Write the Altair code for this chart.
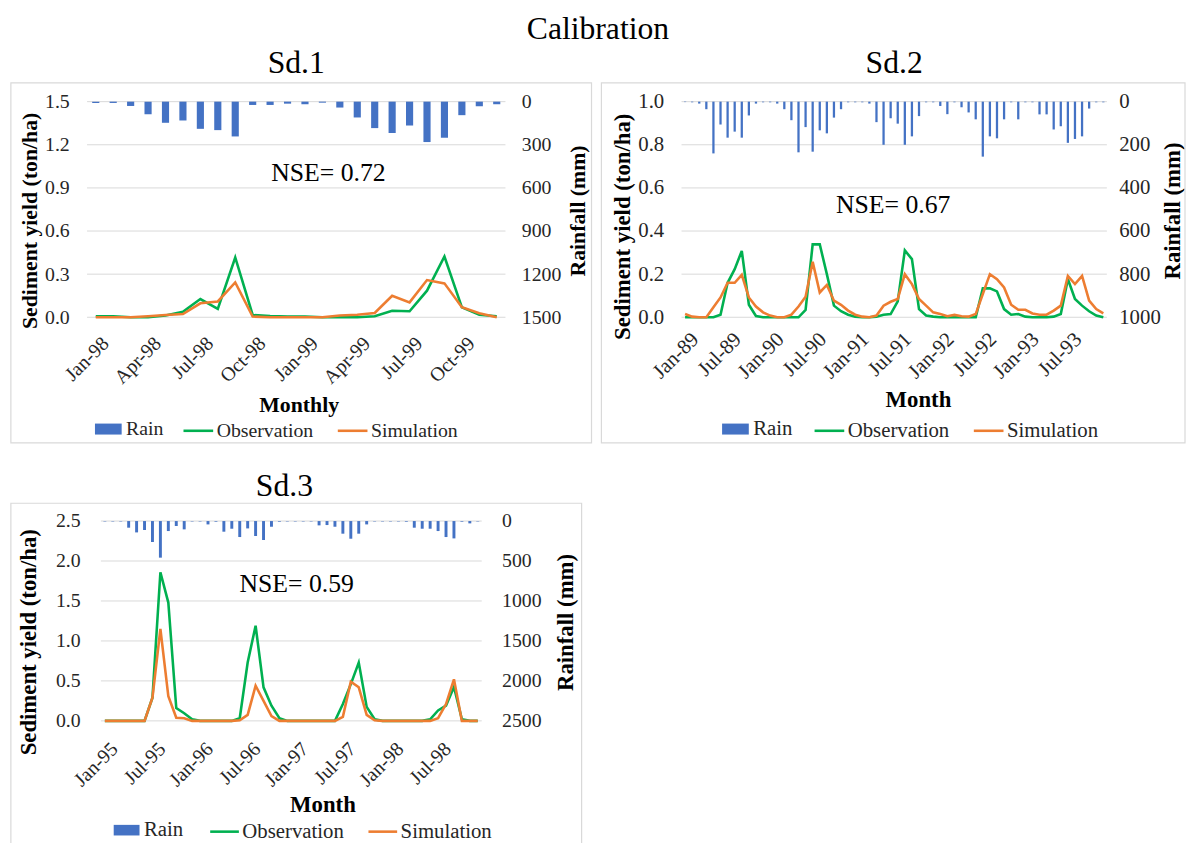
import altair as alt
import pandas as pd

FONT = "Liberation Serif"
BLUE = "#4472C4"
GREEN = "#00B050"
ORANGE = "#ED7D31"
GRID = "#D9D9D9"
TXT = "#262626"

MON = ["Jan", "Feb", "Mar", "Apr", "May", "Jun", "Jul", "Aug", "Sep", "Oct", "Nov", "Dec"]


def month_names(years):
    return [f"{m}-{y}" for y in years for m in MON]


# ---------------- Sd.1 (Jan-98 .. Dec-99) ----------------
sd1_months = month_names(["98", "99"])
sd1_ticks = ["Jan-98", "Apr-98", "Jul-98", "Oct-98", "Jan-99", "Apr-99", "Jul-99", "Oct-99"]
sd1_rain = [9, 9, 30, 87, 147, 131, 189, 198, 242, 23, 23, 14,
            18, 7, 41, 110, 184, 218, 166, 281, 251, 94, 32, 18]
sd1_obs = [0.007, 0.007, 0.0, 0.0, 0.012, 0.039, 0.127, 0.058, 0.416, 0.016, 0.009, 0.005,
           0.005, 0.0, 0.0, 0.0, 0.007, 0.046, 0.042, 0.185, 0.423, 0.069, 0.018, 0.007]
sd1_sim = [0.0, 0.0, 0.0, 0.007, 0.016, 0.023, 0.097, 0.11, 0.242, 0.005, 0.0, 0.0,
           0.0, 0.0, 0.012, 0.018, 0.03, 0.15, 0.104, 0.259, 0.236, 0.07, 0.028, 0.0]

# ---------------- Sd.2 (Jan-89 .. Dec-93) ----------------
sd2_months = month_names(["89", "90", "91", "92", "93"])
sd2_ticks = ["Jan-89", "Jul-89", "Jan-90", "Jul-90", "Jan-91", "Jul-91", "Jan-92", "Jul-92", "Jan-93", "Jul-93"]
sd2_rain = [2, 3, 9, 35, 240, 106, 167, 139, 167, 64, 9, 3,
            3, 9, 35, 86, 235, 118, 232, 133, 147, 74, 35, 3,
            3, 3, 9, 95, 200, 77, 102, 200, 161, 67, 3, 3,
            20, 58, 3, 26, 50, 82, 255, 161, 170, 82, 3, 82,
            3, 3, 59, 59, 129, 114, 191, 173, 161, 32, 3, 3]
sd2_obs = [0, 0, 0, 0, 0, 0.012, 0.16, 0.223, 0.308, 0.058, 0.006, 0,
           0, 0, 0, 0, 0, 0.034, 0.338, 0.338, 0.2, 0.054, 0.028, 0.012,
           0.003, 0, 0, 0.003, 0.012, 0.015, 0.074, 0.31, 0.27, 0.038, 0.008, 0.003,
           0, 0, 0, 0, 0, 0, 0.134, 0.134, 0.12, 0.038, 0.012, 0.015,
           0.003, 0, 0, 0, 0.003, 0.015, 0.177, 0.085, 0.054, 0.028, 0.008, 0]
sd2_sim = [0.015, 0.003, 0, 0, 0.046, 0.092, 0.16, 0.16, 0.197, 0.092, 0.05, 0.023,
           0.008, 0, 0, 0.012, 0.05, 0.095, 0.257, 0.115, 0.15, 0.077, 0.058, 0.031,
           0.012, 0.003, 0, 0.008, 0.054, 0.072, 0.085, 0.2, 0.154, 0.085, 0.054, 0.023,
           0.015, 0.005, 0.011, 0.005, 0.003, 0.015, 0.108, 0.2, 0.177, 0.138, 0.058, 0.035,
           0.035, 0.018, 0.012, 0.012, 0.031, 0.054, 0.192, 0.154, 0.192, 0.077, 0.038, 0.018]

# ---------------- Sd.3 (Jan-95 .. Dec-98) ----------------
sd3_months = month_names(["95", "96", "97", "98"])
sd3_ticks = ["Jan-95", "Jul-95", "Jan-96", "Jul-96", "Jan-97", "Jul-97", "Jan-98", "Jul-98"]
sd3_rain = [5, 5, 5, 83, 142, 112, 262, 458, 125, 62, 104, 5,
            5, 42, 8, 133, 96, 200, 92, 187, 237, 71, 8, 5,
            5, 5, 5, 54, 50, 71, 158, 221, 158, 42, 5, 5,
            5, 5, 8, 83, 96, 96, 125, 200, 217, 8, 29, 5]
sd3_obs = [0, 0, 0, 0, 0, 0, 0.29, 1.86, 1.48, 0.16, 0.096, 0.02,
           0, 0, 0, 0, 0, 0.033, 0.73, 1.19, 0.42, 0.19, 0.033, 0,
           0, 0, 0, 0, 0, 0, 0.21, 0.46, 0.73, 0.175, 0.02, 0,
           0, 0, 0, 0, 0, 0.02, 0.13, 0.19, 0.425, 0.02, 0, 0]
sd3_sim = [0, 0, 0, 0, 0, 0, 0.29, 1.15, 0.31, 0.04, 0.033, 0,
           0, 0, 0, 0, 0, 0.008, 0.075, 0.44, 0.25, 0.06, 0, 0,
           0, 0, 0, 0, 0, 0, 0.05, 0.49, 0.42, 0.075, 0.008, 0,
           0, 0, 0, 0, 0, 0, 0.033, 0.21, 0.52, 0, 0, 0]


def panel(c):
    months = c["months"]
    n = len(months)
    dbar = pd.DataFrame({"month": months, "rain": c["rain"], "item": ["Rain"] * n})
    dline = pd.DataFrame({
        "month": months * 2,
        "idx": list(range(n)) * 2,
        "value": list(c["obs"]) + list(c["sim"]),
        "series": ["Observation"] * n + ["Simulation"] * n,
    })
    w, h, off = c["w"], c["h"], c["off"]
    tfs, lfs, kfs = c["tfs"], c["lgfs"], c["kfs"]
    xscale = alt.Scale(domain=months, range=[off, w], paddingInner=c["pad"],
                       paddingOuter=c["pad"] / 2)
    xaxis = alt.Axis(values=c["ticks"], labelAngle=-45, labelFont=FONT, labelFontSize=kfs,
                     labelColor=TXT, labelPadding=c["xpad"], labelOffset=3, domain=False,
                     ticks=False, grid=False,
                     title=c["xtitle"], titleFont=FONT, titleFontSize=tfs, titleFontWeight="bold",
                     titleColor="black", titleX=c["xt"][0], titleY=c["xt"][1],
                     titleBaseline="middle", titleAlign="center")
    left_axis = alt.Axis(orient="left", values=c["svals"], format=".1f", grid=False,
                         domain=False, ticks=False,
                         labelFont=FONT, labelFontSize=kfs, labelColor=TXT, labelPadding=c["lpad"],
                         title="Sediment  yield (ton/ha)", titleFont=FONT, titleFontSize=tfs,
                         titleFontWeight="bold", titleColor="black",
                         titleX=c["lt"][0], titleY=c["lt"][1], titleBaseline="middle",
                         titleAlign="center", titleAngle=270)
    right_axis = alt.Axis(orient="right", values=c["rvals"], format="d", grid=False, domain=False,
                          ticks=False, labelFont=FONT, labelFontSize=kfs, labelColor=TXT,
                          labelPadding=c["rpad"],
                          title="Rainfall (mm)", titleFont=FONT, titleFontSize=tfs,
                          titleFontWeight="bold", titleColor="black",
                          titleX=c["rt"][0], titleY=c["rt"][1], titleBaseline="middle",
                          titleAlign="center", titleAngle=270)

    fx0, fx1, fy0, fy1 = c["frame"]
    frame = alt.Chart(pd.DataFrame({"k": [0]})).mark_rect(
        filled=False, stroke=GRID, strokeWidth=1.2
    ).encode(x=alt.value(fx0), x2=alt.value(fx1), y=alt.value(fy0), y2=alt.value(fy1))

    grid = alt.Chart(pd.DataFrame({"v": c["svals"]})).mark_rule(color=GRID, strokeWidth=1).encode(
        y=alt.Y("v:Q", scale=alt.Scale(domain=[0, c["smax"]], nice=False), axis=None),
        x=alt.value(off), x2=alt.value(w),
    )

    sym = c["sym"]
    bars = alt.Chart(dbar).mark_bar().encode(
        x=alt.X("month:N", scale=xscale, axis=xaxis),
        y=alt.Y("rain:Q", scale=alt.Scale(domain=[0, c["rmax"]], reverse=True, nice=False),
                axis=right_axis),
        fill=alt.Fill("item:N", scale=alt.Scale(domain=["Rain"], range=[BLUE]),
                      legend=alt.Legend(orient="none", legendX=c["leg1x"], legendY=c["legy"],
                                        title=None, symbolType="M-0.9,-0.37H0.9V0.37H-0.9Z",
                                        symbolSize=sym * sym, symbolStrokeWidth=0,
                                        labelFont=FONT, labelFontSize=lfs, labelColor=TXT,
                                        labelOffset=3)),
    )
    lines = alt.Chart(dline).mark_line(strokeWidth=2.6).encode(
        x=alt.X("month:N", scale=xscale, axis=xaxis),
        y=alt.Y("value:Q", scale=alt.Scale(domain=[0, c["smax"]], nice=False), axis=left_axis),
        stroke=alt.Stroke("series:N",
                          scale=alt.Scale(domain=["Observation", "Simulation"], range=[GREEN, ORANGE]),
                          legend=alt.Legend(orient="none", direction="horizontal",
                                            legendX=c["leg2x"], legendY=c["legy"],
                                            title=None, symbolType="stroke", symbolSize=sym * sym,
                                            symbolStrokeWidth=2.6, labelFont=FONT, labelFontSize=lfs,
                                            labelColor=TXT, labelOffset=2, columnPadding=19)),
        order=alt.Order("idx:Q"),
    )
    nse = alt.Chart(pd.DataFrame({"t": [c["nse"]]})).mark_text(
        font=FONT, fontSize=26, color="black", align="center", baseline="alphabetic"
    ).encode(text="t:N", x=alt.value(c["nse_xy"][0]), y=alt.value(c["nse_xy"][1]))

    return alt.layer(frame, grid, bars, lines, nse).resolve_scale(y="independent").properties(
        width=w, height=h,
        title=alt.Title(c["title"], font=FONT, fontSize=32, fontWeight="normal", color="black",
                        offset=c["toff"]),
    )


p1 = panel(dict(months=sd1_months, rain=sd1_rain, obs=sd1_obs, sim=sd1_sim, ticks=sd1_ticks,
                w=423, off=0, h=218, pad=0.59, smax=1.5, svals=[0, 0.3, 0.6, 0.9, 1.2, 1.5],
                rmax=1500, rvals=[0, 300, 600, 900, 1200, 1500], lpad=18, rpad=16, xpad=16,
                tfs=22, lgfs=20, kfs=20, sym=30, toff=2,
                xtitle="Monthly", xt=(214, 88), lt=(-58, 120), rt=(73, 110),
                frame=(-77, 510, -19, 345), leg1x=6.5, leg2x=96, legy=316,
                nse="NSE= 0.72", nse_xy=(244, 80), title="Sd.1"))
p2 = panel(dict(months=sd2_months, rain=sd2_rain, obs=sd2_obs, sim=sd2_sim, ticks=sd2_ticks,
                w=430, off=0, h=218, pad=0.68, smax=1.0, svals=[0, 0.2, 0.4, 0.6, 0.8, 1.0],
                rmax=1000, rvals=[0, 200, 400, 600, 800, 1000], lpad=18, rpad=12, xpad=11,
                tfs=23, lgfs=21, kfs=21, sym=30, toff=2,
                xtitle="Month", xt=(239, 83), lt=(-60, 126), rt=(66, 110),
                frame=(-81, 509, -19, 345), leg1x=39.5, leg2x=133, legy=316,
                nse="NSE= 0.67", nse_xy=(214, 113), title="Sd.2"))
p3 = panel(dict(months=sd3_months, rain=sd3_rain, obs=sd3_obs, sim=sd3_sim, ticks=sd3_ticks,
                w=399, off=14, h=202, pad=0.63, smax=2.5, svals=[0, 0.5, 1.0, 1.5, 2.0, 2.5],
                rmax=2500, rvals=[0, 500, 1000, 1500, 2000, 2500], lpad=7, rpad=20, xpad=18,
                tfs=23, lgfs=21, kfs=20, sym=29, toff=0,
                xtitle="Month", xt=(238, 85), lt=(-59, 122), rt=(85, 102),
                frame=(-77, 500, -18, 347), leg1x=25.5, leg2x=123, legy=298,
                nse="NSE= 0.59", nse_xy=(212, 72), title="Sd.3"))

chart = alt.concat(p1, p2, p3, columns=2, spacing={"row": 26, "column": 8}).properties(
    align="none",
    title=alt.Title("Calibration", font=FONT, fontSize=32, fontWeight="normal", color="black",
                    offset=2, anchor="middle"),
).resolve_scale(
    fill="independent", stroke="independent"
).configure(
    background="white", padding={"left": 10, "top": 8, "right": 0, "bottom": 0}
).configure_view(strokeWidth=0)

chart.save("out.html", embed_options={"renderer": "svg", "actions": False})
